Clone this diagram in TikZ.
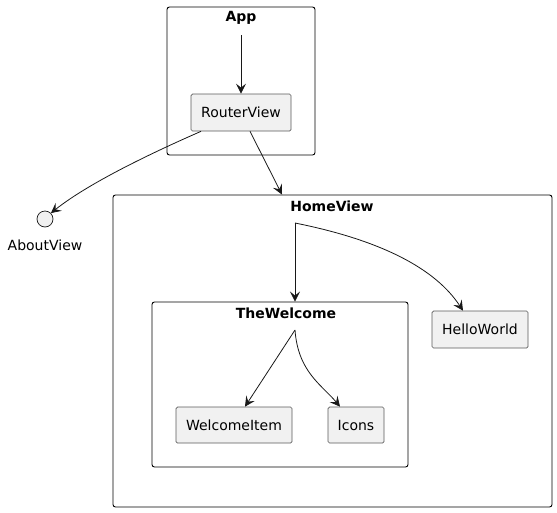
\documentclass[tikz,border=0pt]{standalone}
\usepackage{fontspec}
\setmainfont{DejaVu Sans}
\usetikzlibrary{arrows.meta}
\definecolor{boxfill}{HTML}{F1F1F1}
\definecolor{boxline}{HTML}{5A5A5A}
\definecolor{ink}{HTML}{181818}
\begin{document}
\begin{tikzpicture}[x=1pt,y=-1pt,
  comp/.style={draw=boxline, fill=boxfill, rounded corners=1.5pt, line width=0.7pt,
    inner sep=0pt, font=\fontsize{14}{16}\selectfont},
  container/.style={draw=black, rounded corners=2.5pt, line width=0.9pt, inner sep=0pt},
  title/.style={font=\fontsize{14}{16}\selectfont\bfseries, inner sep=0pt},
  conn/.style={draw=ink, line width=0.8pt, -{Stealth[length=10pt,width=10pt,inset=4pt]}}]
\useasboundingbox (0,0) rectangle (557,512);
% containers
\node[container, minimum width=148, minimum height=148] (app) at (241,81) {};
\node[title] (apptitle) at (241,18) {App};
\node[container, minimum width=439, minimum height=312] (home) at (332.5,351) {};
\node[title] (hometitle) at (332,206) {HomeView};
\node[container, minimum width=256, minimum height=165] (welcome) at (280,384.5) {};
\node[title] (welcometitle) at (286,313) {TheWelcome};
% components
\node[comp, minimum width=100, minimum height=37] (rv) at (241,112.5) {RouterView};
\node[comp, minimum width=96, minimum height=37] (hw) at (480,329.5) {HelloWorld};
\node[comp, minimum width=116, minimum height=36] (wi) at (234,425) {WelcomeItem};
\node[comp, minimum width=56, minimum height=36] (ic) at (356,425) {Icons};
% about view
\node[draw=ink, fill=boxfill, circle, minimum size=16, inner sep=0pt, line width=0.7pt] (av) at (45,219) {};
\node[font=\fontsize{14}{16}\selectfont, inner sep=0pt] (avl) at (45,245) {AboutView};
% free points
\coordinate (ap) at (241,35);
\coordinate (hv) at (295,223);
\coordinate (tw) at (295,330);
% connectors
\draw[conn] (ap) -- (rv.north);
\draw[conn] ([xshift=-40pt]rv.south) .. controls (140,158) and (85,186) .. (av.45);
\draw[conn] ([xshift=9pt]rv.south) -- ([xshift=-50.5pt]home.north);
\draw[conn] (hv) -- ([xshift=15pt]welcome.north);
\draw[conn] (hv) .. controls (380,240) and (435,268) .. ([xshift=-17pt]hw.north);
\draw[conn] (tw) -- ([xshift=11pt]wi.north);
\draw[conn] (tw) .. controls (298,372) and (322,385) .. ([xshift=-16pt]ic.north);
\end{tikzpicture}
\end{document}
